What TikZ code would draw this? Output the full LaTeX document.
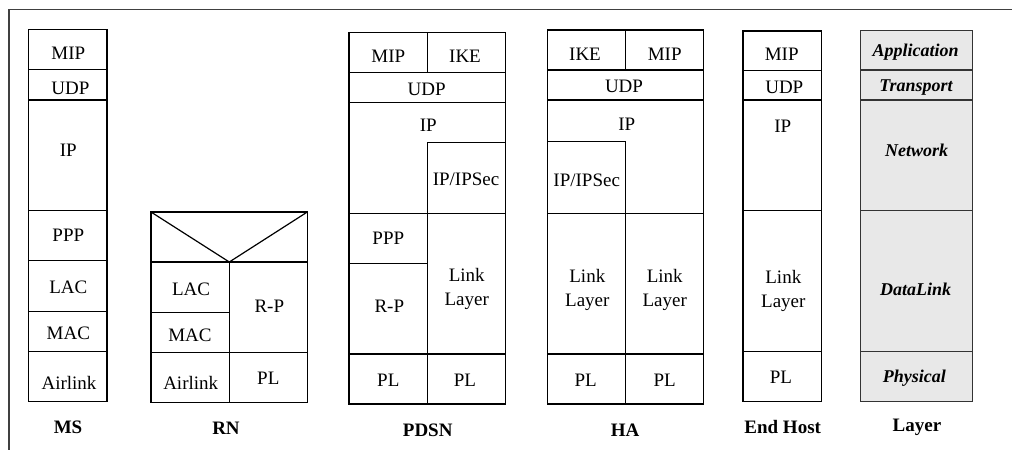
\documentclass[tikz,border=0pt]{standalone}
\usepackage{fontspec}
\setmainfont{Liberation Serif}
\tikzset{
  cellbox/.style={draw=black, line width=1.2pt, inner sep=0pt, outer sep=0pt},
  layerbox/.style={draw=black!80, fill=black!9, line width=1.2pt, inner sep=0pt, outer sep=0pt},
  lbl/.style={inner sep=0pt, font=\fontsize{19}{24}\selectfont, align=center},
  layerlbl/.style={inner sep=0pt, font=\fontsize{18}{20}\selectfont\bfseries\itshape},
  caption/.style={inner sep=0pt, font=\fontsize{19}{21}\selectfont\bfseries},
  frameline/.style={draw=black!75, line width=1.4pt},
  ipshape/.style={draw=black, line width=1.2pt, line join=miter}
}
% #1 name, #2 style, (#3,#4) top-left, (#5,#6) bottom-right
\newcommand\stackcell[6]{%
  \node[#2, minimum width={(#5-#3)*1pt}, minimum height={(#6-#4)*1pt}]
    (#1) at ({(#3+#5)/2},{(#4+#6)/2}) {};}
\begin{document}
\begin{tikzpicture}[x=1pt,y=-1pt]
\useasboundingbox (0,0) rectangle (1012,450);

% outer frame (top and left edges only)
\coordinate (fTL) at (9,9.5);
\coordinate (fTR) at (1012,9.5);
\coordinate (fBL) at (9,450);
\draw[frameline] (fTR) -- (fTL) -- (fBL);

% ---------------- MS ----------------
\stackcell{ms1}{cellbox}{28.7}{29.3}{107}{69.3}
\stackcell{ms2}{cellbox}{28.7}{69.3}{107}{100}
\stackcell{ms3}{cellbox}{28.7}{100}{107}{210.7}
\stackcell{ms4}{cellbox}{28.7}{210.7}{107}{260.7}
\stackcell{ms5}{cellbox}{28.7}{260.7}{107}{311.3}
\stackcell{ms6}{cellbox}{28.7}{311.3}{107}{351.3}
\stackcell{ms7}{cellbox}{28.7}{351.3}{107}{401.7}
\node[lbl] (msMIP) at (68.3,53) {MIP};
\node[lbl] (msUDP) at (70.5,88) {UDP};
\node[lbl] (msIP) at (68.3,150) {IP};
\node[lbl] (msPPP) at (68.3,235) {PPP};
\node[lbl] (msLAC) at (68.3,287.5) {LAC};
\node[lbl] (msMAC) at (68.3,333) {MAC};
\node[lbl] (msAir) at (69,382.5) {Airlink};
\node[caption] (msCap) at (68,427) {MS};

% ---------------- RN ----------------
\stackcell{rnTop}{cellbox}{151}{212}{307.3}{262}
\coordinate (rnV) at (229.3,262);
\draw[line width=1.2pt] (rnTop.north west) -- (rnV) -- (rnTop.north east);
\stackcell{rn1}{cellbox}{151}{262}{229.3}{312.7}
\stackcell{rn2}{cellbox}{151}{312.7}{229.3}{352.7}
\stackcell{rn3}{cellbox}{151}{352.7}{229.3}{402.7}
\stackcell{rn4}{cellbox}{229.3}{262}{307.3}{352.7}
\stackcell{rn5}{cellbox}{229.3}{352.7}{307.3}{402.7}
\node[lbl] (rnLAC) at (191,289.3) {LAC};
\node[lbl] (rnMAC) at (190,335) {MAC};
\node[lbl] (rnAir) at (190.7,383.3) {Airlink};
\node[lbl] (rnRP) at (269.3,306) {R-P};
\node[lbl] (rnPL) at (268.3,378.3) {PL};
\node[caption] (rnCap) at (226,428) {RN};

% ---------------- PDSN ----------------
\stackcell{pd1}{cellbox}{349}{32.3}{427.7}{72.3}
\stackcell{pd2}{cellbox}{427.7}{32.3}{505.7}{72.3}
\stackcell{pd3}{cellbox}{349}{72.3}{505.7}{102.3}
\draw[ipshape] (349,102.3) -- (505.7,102.3) -- (505.7,142.7) -- (427.7,142.7)
  -- (427.7,213.3) -- (349,213.3) -- cycle;
\stackcell{pd4}{cellbox}{427.7}{142.7}{505.7}{213.3}
\stackcell{pd5}{cellbox}{349}{213.3}{427.7}{263.3}
\stackcell{pd6}{cellbox}{349}{263.3}{427.7}{354}
\stackcell{pd7}{cellbox}{427.7}{213.3}{505.7}{354}
\stackcell{pd8}{cellbox}{349}{354}{427.7}{404}
\stackcell{pd9}{cellbox}{427.7}{354}{505.7}{404}
\node[lbl] (pdMIP) at (388.3,56) {MIP};
\node[lbl] (pdIKE) at (465,56) {IKE};
\node[lbl] (pdUDP) at (426.7,89.3) {UDP};
\node[lbl] (pdIP) at (428.3,125.3) {IP};
\node[lbl] (pdSec) at (466,179) {IP/IPSec};
\node[lbl] (pdPPP) at (388.3,238.3) {PPP};
\node[lbl] (pdRP) at (389.3,306.7) {R-P};
\node[lbl] (pdLink) at (466.7,289) {Link\\Layer};
\node[lbl] (pdPL1) at (388.3,380.7) {PL};
\node[lbl] (pdPL2) at (465,380.7) {PL};
\node[caption] (pdCap) at (427.7,430) {PDSN};

% ---------------- HA ----------------
\stackcell{ha1}{cellbox}{547.3}{30}{625.7}{70}
\stackcell{ha2}{cellbox}{625.7}{30}{703.7}{70}
\stackcell{ha3}{cellbox}{547.3}{70}{703.7}{100}
\draw[ipshape] (547.3,100) -- (703.7,100) -- (703.7,213.3) -- (625.7,213.3)
  -- (625.7,141.7) -- (547.3,141.7) -- cycle;
\stackcell{ha4}{cellbox}{547.3}{141.7}{625.7}{213.3}
\stackcell{ha5}{cellbox}{547.3}{213.3}{625.7}{354}
\stackcell{ha6}{cellbox}{625.7}{213.3}{703.7}{354}
\stackcell{ha7}{cellbox}{547.3}{354}{625.7}{404}
\stackcell{ha8}{cellbox}{625.7}{354}{703.7}{404}
\node[lbl] (haIKE) at (585,54.3) {IKE};
\node[lbl] (haMIP) at (664.7,54.3) {MIP};
\node[lbl] (haUDP) at (624,86.7) {UDP};
\node[lbl] (haIP) at (626.7,124.3) {IP};
\node[lbl] (haSec) at (586.7,180) {IP/IPSec};
\node[lbl] (haLink1) at (587.3,289.7) {Link\\Layer};
\node[lbl] (haLink2) at (664.7,289.7) {Link\\Layer};
\node[lbl] (haPL1) at (585.7,380) {PL};
\node[lbl] (haPL2) at (664.7,380) {PL};
\node[caption] (haCap) at (625,430) {HA};

% ---------------- End Host ----------------
\stackcell{eh1}{cellbox}{743}{31}{821.3}{70.7}
\stackcell{eh2}{cellbox}{743}{70.7}{821.3}{100}
\stackcell{eh3}{cellbox}{743}{100}{821.3}{210.7}
\stackcell{eh4}{cellbox}{743}{210.7}{821.3}{351.7}
\stackcell{eh5}{cellbox}{743}{351.7}{821.3}{401.7}
\node[lbl] (ehMIP) at (781.7,54.3) {MIP};
\node[lbl] (ehUDP) at (784.3,87.3) {UDP};
\node[lbl] (ehIP) at (782.7,126) {IP};
\node[lbl] (ehLink) at (783.3,291) {Link\\Layer};
\node[lbl] (ehPL) at (781,377.7) {PL};
\node[caption] (ehCap) at (782.7,427) {End Host};

% ---------------- Layer reference column ----------------
\stackcell{ly1}{layerbox}{860.3}{30.7}{972.7}{70}
\stackcell{ly2}{layerbox}{860.3}{70}{972.7}{100}
\stackcell{ly3}{layerbox}{860.3}{100}{972.7}{210.7}
\stackcell{ly4}{layerbox}{860.3}{210.7}{972.7}{351.7}
\stackcell{ly5}{layerbox}{860.3}{351.7}{972.7}{401.7}
\node[layerlbl] (lyApp) at (915.7,52) {Application};
\node[layerlbl] (lyTra) at (916,88) {Transport};
\node[layerlbl] (lyNet) at (916.7,150) {Network};
\node[layerlbl] (lyDL) at (915.7,289.3) {DataLink};
\node[layerlbl] (lyPhy) at (914.3,378.3) {Physical};
\node[caption] (lyCap) at (917,427) {Layer};
\end{tikzpicture}
\end{document}
